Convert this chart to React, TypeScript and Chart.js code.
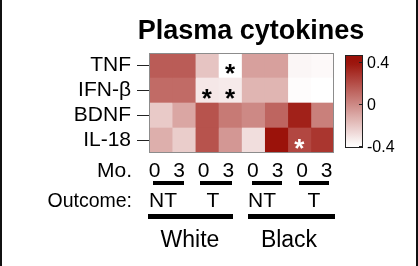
import React, { useEffect, useRef } from "react";
import { Chart, registerables } from "chart.js";

Chart.register(...registerables);

const rowLabels = ["TNF", "IFN-β", "BDNF", "IL-18"];
const monthLabels = ["0", "3", "0", "3", "0", "3", "0", "3"];
const outcomeLabels = ["NT", "T", "NT", "T"];
const raceLabels = ["White", "Black"];

const tnf = [0.15, 0.15, -0.2, -0.4, -0.08, -0.08, -0.37, -0.38];
const ifnb = [0.1, 0.1, -0.32, -0.33, -0.15, -0.15, -0.39, -0.4];
const bdnf = [-0.22, -0.1, 0.18, 0.05, 0.0, 0.12, 0.35, 0.03];
const il18 = [-0.13, -0.23, 0.18, -0.05, -0.29, 0.4, 0.22, 0.28];
const values = [tnf, ifnb, bdnf, il18];

const starCells = [
  { row: 0, col: 3, color: "#000000" },
  { row: 1, col: 2, color: "#000000" },
  { row: 1, col: 3, color: "#000000" },
  { row: 3, col: 6, color: "#ffffff" },
];

const colorbarTicks = [0.4, 0, -0.4];
const vMin = -0.4;
const vMax = 0.4;
const cbTop = 0.47;
const cbBottom = -0.42;

const FONT = "'Liberation Sans', Arial, Helvetica, sans-serif";

function colorFor(v: number): string {
  let t = (v - vMin) / (vMax - vMin);
  t = Math.max(0, Math.min(1, t));
  const r = Math.round(255 - (255 - 155) * t);
  const g = Math.round(255 - (255 - 18) * t);
  const b = Math.round(255 - (255 - 10) * t);
  return `rgb(${r},${g},${b})`;
}

const overlay = {
  id: "overlay",
  afterDraw(chart: any) {
    const ctx = chart.ctx as CanvasRenderingContext2D;
    const { left, right, top, bottom } = chart.chartArea;
    const xs = chart.scales.x;
    const ys = chart.scales.y;
    ctx.save();

    // side borders of the figure
    ctx.fillStyle = "#111";
    ctx.fillRect(0, 0, 2, chart.height);
    ctx.fillRect(chart.width - 2, 0, 2, chart.height);

    // frame
    ctx.strokeStyle = "#8c8c8c";
    ctx.lineWidth = 1;
    ctx.strokeRect(left + 0.5, top + 0.5, right - left - 1, bottom - top - 1);

    // stars
    ctx.font = `bold 26px ${FONT}`;
    ctx.textAlign = "center";
    ctx.textBaseline = "alphabetic";
    starCells.forEach((s) => {
      const x = xs.getPixelForValue(s.col + 0.5);
      const y = ys.getPixelForValue(s.row);
      ctx.fillStyle = s.color;
      ctx.fillText("*", x, y + 16);
    });

    // title
    ctx.fillStyle = "#000";
    ctx.font = `bold 27px ${FONT}`;
    ctx.textAlign = "center";
    ctx.fillText("Plasma cytokines", 251, 39);

    // colorbar
    const cbL = right + 11;
    const cbW = 18;
    const cbT = 55;
    const cbB = 148;
    const yFor = (v: number) => cbT + ((cbTop - v) / (cbTop - cbBottom)) * (cbB - cbT);
    const grad = ctx.createLinearGradient(0, cbT, 0, cbB);
    for (let i = 0; i <= 20; i++) {
      const v = cbTop - ((cbTop - cbBottom) * i) / 20;
      grad.addColorStop(i / 20, colorFor(v));
    }
    ctx.fillStyle = grad;
    ctx.fillRect(cbL, cbT, cbW, cbB - cbT);
    ctx.strokeStyle = "#222";
    ctx.lineWidth = 1;
    ctx.strokeRect(cbL + 0.5, cbT + 0.5, cbW - 1, cbB - cbT - 1);
    ctx.font = `16px ${FONT}`;
    ctx.textAlign = "left";
    ctx.fillStyle = "#000";
    colorbarTicks.forEach((v) => {
      const y = yFor(v);
      ctx.beginPath();
      ctx.moveTo(cbL + cbW - 4, Math.round(y) + 0.5);
      ctx.lineTo(cbL + cbW, Math.round(y) + 0.5);
      ctx.stroke();
      const label = v === 0 ? "0" : v.toFixed(1);
      ctx.fillText(label, cbL + cbW + 4, y + 6);
    });

    // Month row
    ctx.font = `21px ${FONT}`;
    ctx.textAlign = "right";
    ctx.fillText("Mo.", 132, 177);
    ctx.textAlign = "center";
    monthLabels.forEach((m, i) => {
      const x = left + 5.5 + 24.6 * i;
      ctx.fillText(m, x, 177);
    });

    // small bars
    const smallBars = [
      [153, 184],
      [200, 232],
      [252, 282],
      [299, 329],
    ];
    smallBars.forEach(([a, b]) => ctx.fillRect(a, 181, b - a, 4));

    // outcome row
    ctx.font = `19.5px ${FONT}`;
    ctx.textAlign = "right";
    ctx.fillText("Outcome:", 132, 207);
    ctx.font = `21px ${FONT}`;
    ctx.textAlign = "center";
    const outX = [163, 213, 262, 314];
    outcomeLabels.forEach((o, i) => ctx.fillText(o, outX[i], 207));

    // big bars
    const bigBars = [
      [148, 233],
      [248, 335],
    ];
    bigBars.forEach(([a, b]) => ctx.fillRect(a, 214, b - a, 5));

    ctx.font = `23px ${FONT}`;
    const raceX = [190, 289];
    raceLabels.forEach((r, i) => ctx.fillText(r, raceX[i], 247));

    ctx.restore();
  },
};

export default function App() {
  const ref = useRef<HTMLCanvasElement | null>(null);

  useEffect(() => {
    if (!ref.current) return;
    const datasets = monthLabels.map((_, c) => ({
      label: `col${c}`,
      data: rowLabels.map(() => 1),
      backgroundColor: rowLabels.map((_, r) => colorFor(values[r][c])),
      borderWidth: 0,
      barPercentage: 1,
      categoryPercentage: 1,
    }));
    const chart = new Chart(ref.current, {
      type: "bar",
      data: { labels: rowLabels, datasets },
      options: {
        indexAxis: "y",
        animation: false,
        responsive: false,
        maintainAspectRatio: false,
        layout: { padding: { left: 0, right: 84, top: 53, bottom: 113 } },
        plugins: { legend: { display: false }, tooltip: { enabled: false }, title: { display: false } },
        scales: {
          x: { type: "linear", min: 0, max: 8, stacked: true, display: false },
          y: {
            type: "category",
            stacked: true,
            offset: true,
            border: { display: false },
            grid: { drawOnChartArea: false, offset: false, tickLength: 12, color: "#222", tickWidth: 1 },
            ticks: { color: "#000", font: { size: 21, family: FONT }, padding: 6, autoSkip: false },
            afterFit: (s: any) => {
              s.width = 149;
            },
          },
        },
      },
      plugins: [overlay],
    });
    return () => chart.destroy();
  }, []);

  return (
    <div style={{ position: "absolute", left: 0, top: 0, width: 418, height: 266, background: "#fff" }}>
      <canvas ref={ref} width={418} height={266} style={{ width: 418, height: 266 }} />
    </div>
  );
}
